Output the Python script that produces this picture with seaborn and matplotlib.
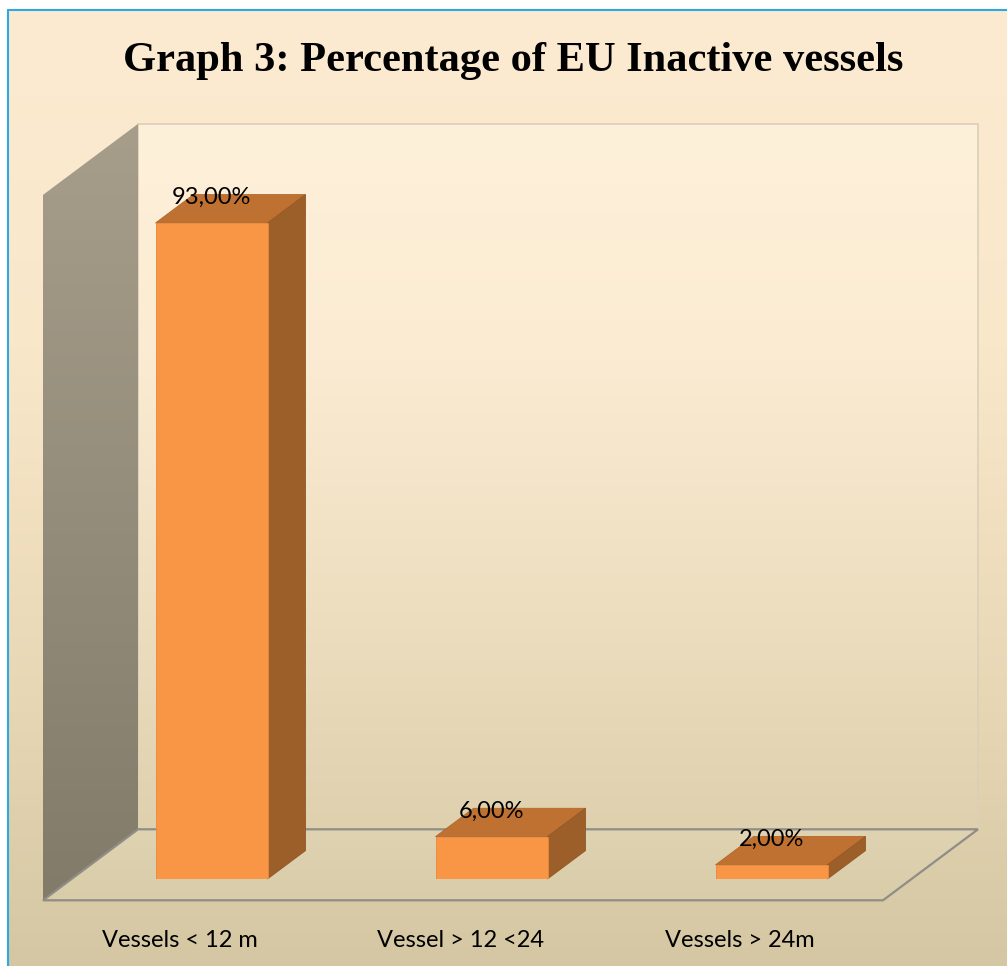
import numpy as np
import matplotlib
matplotlib.use('Agg')
import matplotlib.pyplot as plt
from matplotlib.patches import Polygon
from matplotlib.colors import LinearSegmentedColormap
import seaborn as sns

# ---- data ----
categories = ['Vessels < 12 m', 'Vessel > 12 <24', 'Vessels > 24m']
values = [93.0, 6.0, 2.0]
value_labels = ['93,00%', '6,00%', '2,00%']
title = 'Graph 3: Percentage of EU Inactive vessels'

# ---- style ----
FRONT = '#F89646'
TOP = '#BF7131'
SIDE = '#9D5F29'
W, H, DPI = 1007, 966, 100
D = np.array([95.0, 71.0])          # full floor depth in pixels
K_FRONT, K_BACK, K_BAR = -0.3, 0.7, 0.4

sns.set_theme(style='white')
plt.rcParams['font.family'] = ['Lato', 'DejaVu Sans']
plt.rcParams['text.color'] = 'black'

fig = plt.figure(figsize=(W / DPI, H / DPI), dpi=DPI)
fig.patch.set_facecolor('white')

# background layer in pixel units
bg = fig.add_axes([0, 0, 1, 1], zorder=0)
bg.set_xlim(0, W)
bg.set_ylim(0, H)
bg.axis('off')

grad = np.linspace(0, 1, 256).reshape(-1, 1)


def gradient_poly(pts, colors, zorder):
    poly = Polygon(pts, closed=True, facecolor='none', edgecolor='none')
    bg.add_patch(poly)
    cmap = LinearSegmentedColormap.from_list('g', colors)
    xs, ys = pts[:, 0], pts[:, 1]
    im = bg.imshow(grad, extent=(xs.min(), xs.max(), ys.min(), ys.max()),
                   origin='lower', cmap=cmap, aspect='auto', zorder=zorder,
                   interpolation='bilinear')
    im.set_clip_path(poly)
    return poly


# page background
page_cmap = LinearSegmentedColormap.from_list(
    'page', [(0, '#D5C7A3'), (0.3, '#E9D8B6'), (0.65, '#F9E7CA'), (1, '#FCEBD1')])
bg.imshow(grad, extent=(8, W, 0, H - 10), origin='lower', cmap=page_cmap,
          aspect='auto', zorder=0)
bg.plot([8, 8], [0, H - 10], color='#2BA9E1', lw=1.5, zorder=1)
bg.plot([8, W], [H - 10, H - 10], color='#2BA9E1', lw=1.5, zorder=1)

# ---- main axes ----
ax = fig.add_axes([71.5 / W, 87 / H, 840 / W, 705.4 / H], zorder=1)
ax.patch.set_alpha(0)
sns.barplot(x=categories, y=values, color=FRONT, saturation=1, width=0.4,
            ax=ax, zorder=3, edgecolor='#E8883C', linewidth=0.6)
ax.set_xlim(-0.5, 2.5)
ax.set_ylim(0, 100)
for s in ax.spines.values():
    s.set_visible(False)
ax.set_yticks([])
ax.set_xlabel('')
ax.set_ylabel('')
ax.tick_params(axis='x', length=0, labelbottom=False)

# category labels sit on the front plane of the floor
for i, cat in enumerate(categories):
    ax.annotate(cat, (i, 0), xytext=(-22.5, -44), textcoords='offset points',
                ha='center', va='center', fontsize=17, color='black')


def P(x, y, k):
    return ax.transData.transform((x, y)) + k * D


x_lo, x_hi = ax.get_xlim()
y_lo, y_hi = ax.get_ylim()

# back wall
back = np.array([P(x_lo, y_lo, K_BACK), P(x_hi, y_lo, K_BACK),
                 P(x_hi, y_hi, K_BACK), P(x_lo, y_hi, K_BACK)])
gradient_poly(back, ['#DFD1AE', '#EEDFC1', '#FBEBD2', '#FEF1DA'], 2)
bg.add_patch(Polygon(back, closed=True, facecolor='none',
                     edgecolor='#DCCFB8', lw=1.2, zorder=2.1))

# left wall
left = np.array([P(x_lo, y_lo, K_FRONT), P(x_lo, y_lo, K_BACK),
                 P(x_lo, y_hi, K_BACK), P(x_lo, y_hi, K_FRONT)])
gradient_poly(left, ['#827B69', '#958D7B', '#A69D8A'], 3)

# floor
floor = np.array([P(x_lo, y_lo, K_FRONT), P(x_hi, y_lo, K_FRONT),
                  P(x_hi, y_lo, K_BACK), P(x_lo, y_lo, K_BACK)])
gradient_poly(floor, ['#D9CCA9', '#E0D3B2'], 3)
bg.add_patch(Polygon(floor, closed=True, facecolor='none',
                     edgecolor='#8F8D86', lw=1.6, zorder=3.5))

# bar top and side faces
for p, lab in zip(ax.patches, value_labels):
    x0 = p.get_x()
    x1 = x0 + p.get_width()
    h = p.get_height()
    top = np.array([P(x0, h, 0), P(x1, h, 0), P(x1, h, K_BAR), P(x0, h, K_BAR)])
    side = np.array([P(x1, 0, 0), P(x1, 0, K_BAR), P(x1, h, K_BAR), P(x1, h, 0)])
    bg.add_patch(Polygon(top, closed=True, facecolor=TOP, edgecolor='#B0682D',
                         lw=0.6, zorder=5))
    bg.add_patch(Polygon(side, closed=True, facecolor=SIDE, edgecolor='#935826',
                         lw=0.6, zorder=5))
    ax.annotate(lab, (x0 + p.get_width() / 2, h), xytext=(0, 18.5),
                textcoords='offset points', ha='center', va='center',
                fontsize=17, color='black', zorder=6)

fig.text(513 / W, 1 - 61 / H, title, ha='center', va='center', fontsize=30.6,
         fontweight='bold', color='black',
         family=['Liberation Serif', 'DejaVu Serif'])

fig.savefig('out.png', dpi=DPI)
